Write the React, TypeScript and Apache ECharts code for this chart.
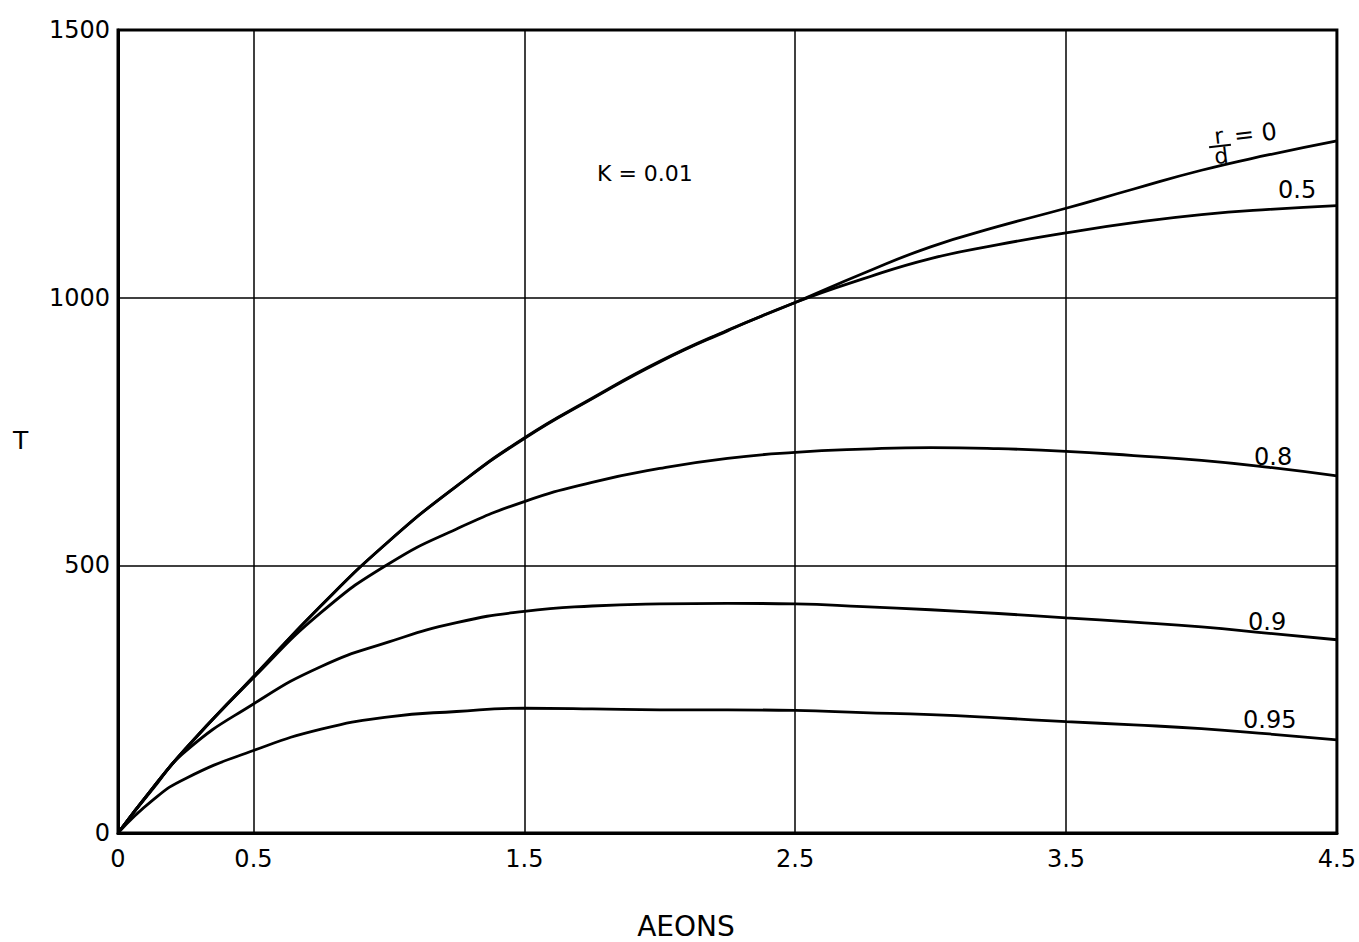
import React, { useEffect, useRef } from "react";
import * as echarts from "echarts";

const aeons = [0, 0.125, 0.25, 0.5, 0.75, 1.0, 1.25, 1.5, 1.75, 2.0, 2.25, 2.5, 2.75, 3.0, 3.25, 3.5, 3.75, 4.0, 4.25, 4.5];
const tRd0 = [0, 82, 158, 292, 425, 545, 648, 738, 812, 881, 939, 991, 1045, 1095, 1133, 1167, 1203, 1238, 1267, 1293];
const tRd05 = [0, 82, 158, 292, 425, 545, 648, 737, 811, 880, 938, 991, 1035, 1073, 1099, 1121, 1140, 1155, 1165, 1172];
const tRd08 = [0, 82, 157, 290, 412, 503, 568, 619, 655, 681, 700, 711, 717, 720, 718, 713, 705, 696, 683, 667];
const tRd09 = [0, 80, 153, 241, 311, 357, 393, 414, 424, 428, 429, 428, 423, 417, 410, 402, 394, 385, 373, 361];
const tRd095 = [0, 60, 102, 154, 194, 217, 227, 233, 232, 230, 230, 229, 225, 221, 215, 208, 202, 195, 185, 174];

const xTickLabels = ["0", "0.5", "1.5", "2.5", "3.5", "4.5"];
const xGridLines = [0.5, 1.5, 2.5, 3.5];
const yTicks = [0, 500, 1000, 1500];

const FONT = "DejaVu Sans";

export default function App() {
  const ref = useRef<HTMLDivElement>(null);
  useEffect(() => {
    if (!ref.current) return;
    const chart = echarts.init(ref.current, undefined, { renderer: "svg" });
    const mk = (name: string, vals: number[]) => ({
      name,
      type: "line",
      data: aeons.map((a, i) => [a, vals[i]]),
      smooth: 0.5,
      showSymbol: false,
      lineStyle: { color: "#000", width: 2.8 },
      z: 5,
    });
    const txt = (text: string, x: number, y: number, size = 24, extra: any = {}) => ({
      type: "text",
      x,
      y,
      style: { text, fill: "#000", font: `${size}px "${FONT}"`, textVerticalAlign: "middle", ...extra },
      z: 20,
    });
    chart.setOption({
      animation: false,
      backgroundColor: "#fff",
      grid: {
        left: 118,
        top: 30,
        right: 22,
        bottom: 109,
        show: true,
        borderColor: "#000",
        borderWidth: 3,
        backgroundColor: "transparent",
      },
      xAxis: {
        type: "value",
        min: 0,
        max: 4.5,
        interval: 0.5,
        axisLine: { show: true, lineStyle: { color: "#000", width: 3 } },
        axisTick: { show: false },
        splitLine: { show: false },
        axisLabel: {
          margin: 14,
          color: "#000",
          fontFamily: FONT,
          fontSize: 24,
          formatter: (v: number) => {
            const s = String(v);
            return xTickLabels.includes(s) ? s : "";
          },
        },
      },
      yAxis: {
        type: "value",
        min: 0,
        max: 1500,
        interval: 500,
        axisLine: { show: true, lineStyle: { color: "#000", width: 3 } },
        axisTick: { show: false },
        splitLine: { show: true, lineStyle: { color: "#000", width: 1.5 } },
        axisLabel: {
          margin: 8,
          color: "#000",
          fontFamily: FONT,
          fontSize: 24,
          formatter: (v: number) => (yTicks.includes(v) ? String(v) : ""),
        },
      },
      series: [
        {
          type: "line",
          data: [],
          silent: true,
          markLine: {
            silent: true,
            symbol: "none",
            label: { show: false },
            lineStyle: { color: "#000", width: 1.5, type: "solid" },
            data: xGridLines.map((x) => ({ xAxis: x })),
          },
        },
        mk("r/d = 0", tRd0),
        mk("0.5", tRd05),
        mk("0.8", tRd08),
        mk("0.9", tRd09),
        mk("0.95", tRd095),
      ],
      graphic: [
        txt("T", 13, 440, 25),
        txt("AEONS", 686, 926, 28, { textAlign: "center" }),
        txt("K = 0.01", 597, 173, 22),
        {
          type: "group",
          x: 1220,
          y: 146,
          rotation: 0.12,
          z: 20,
          children: [
            { type: "text", x: 0, y: -10, style: { text: "r", fill: "#000", font: `22px "${FONT}"`, textAlign: "center", textVerticalAlign: "middle" } },
            { type: "line", shape: { x1: -11, y1: 0, x2: 11, y2: 0 }, style: { stroke: "#000", lineWidth: 2 } },
            { type: "text", x: 0, y: 10, style: { text: "d", fill: "#000", font: `22px "${FONT}"`, textAlign: "center", textVerticalAlign: "middle" } },
            { type: "text", x: 15, y: -8, style: { text: "= 0", fill: "#000", font: `24px "${FONT}"`, textVerticalAlign: "middle" } },
          ],
        },
        txt("0.5", 1278, 190, 24),
        txt("0.8", 1254, 457, 24),
        txt("0.9", 1248, 622, 24),
        txt("0.95", 1243, 720, 24),
      ],
    });
    return () => chart.dispose();
  }, []);
  return <div ref={ref} style={{ position: "fixed", left: 0, top: 0, width: 1359, height: 942 }} />;
}
